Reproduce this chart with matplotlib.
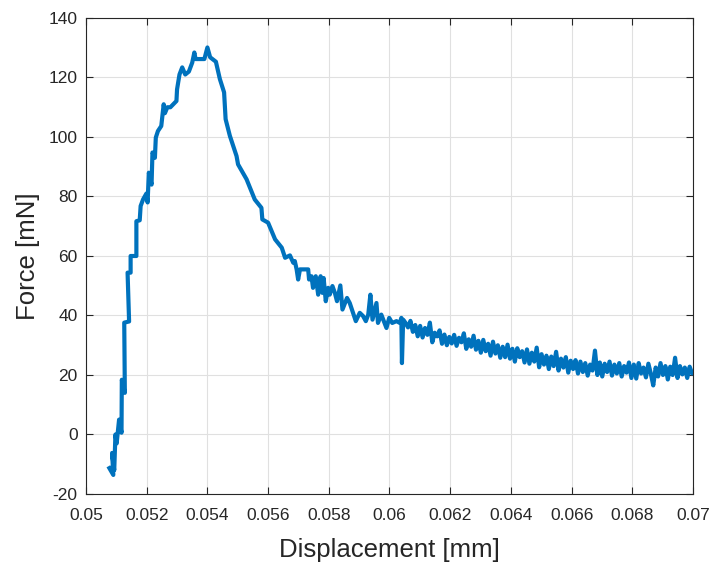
import matplotlib
matplotlib.use("Agg")
import matplotlib.pyplot as plt
from matplotlib.ticker import FuncFormatter

# Spostamento [mm] e forza [mN]
# 1) salita fino al picco e discesa
disp_main = [
    0.05077, 0.05090, 0.05086, 0.05093, 0.05097, 0.05101, 0.05109, 0.05117,
    0.05118, 0.05128, 0.05126, 0.05142, 0.05137, 0.05147, 0.05147, 0.05166,
    0.05166, 0.05177, 0.05180, 0.05188, 0.05199, 0.05203, 0.05207, 0.05216,
    0.05219, 0.05227, 0.05230, 0.05237, 0.05248, 0.05256, 0.05260, 0.05268,
    0.05278, 0.05298, 0.05300, 0.05308, 0.05317, 0.05327, 0.05339, 0.05350,
    0.05357, 0.05361, 0.05390, 0.05400, 0.05409, 0.05428, 0.05441, 0.05455,
    0.05460, 0.05474, 0.05496, 0.05501, 0.05529, 0.05556, 0.05578, 0.05581,
    0.05600, 0.05623, 0.05645, 0.05656, 0.05672, 0.05683, 0.05688, 0.05694,
    0.05699, 0.05705, 0.05732, 0.05735, 0.05743, 0.05748, 0.05757, 0.05765,
    0.05773, 0.05779, 0.05783, 0.05790, 0.05798, 0.05803, 0.05812, 0.05820,
    0.05827, 0.05838, 0.05845, 0.05860, 0.05869, 0.05889, 0.05902, 0.05913,
    0.05922, 0.05930, 0.05937, 0.05944, 0.05957, 0.05962, 0.05973, 0.05990,
    0.05999, 0.06009, 0.06023, 0.06034, 0.06039, 0.06041, 0.06045,
]
force_main = [
    -11.3, -13.6, -6.2, -12.0, 0.0, -3.0, 5.0, 0.6,
    18.4, 14.0, 37.6, 38.0, 54.4, 54.4, 60.0, 60.0,
    71.7, 72.0, 76.8, 79.0, 81.0, 78.0, 88.0, 84.0,
    94.8, 93.0, 99.8, 102.0, 103.7, 111.0, 108.0, 110.0,
    110.0, 112.1, 116.0, 121.0, 123.4, 121.0, 122.0, 125.0,
    128.4, 126.2, 126.2, 130.1, 126.8, 125.3, 119.5, 115.0,
    106.0, 100.4, 93.6, 90.8, 85.8, 79.0, 76.2, 72.3,
    71.2, 65.6, 62.8, 59.4, 60.2, 57.7, 58.3, 55.5,
    52.1, 55.5, 55.5, 52.1, 53.2, 49.3, 53.2, 47.0,
    53.2, 47.6, 52.6, 44.8, 49.3, 47.0, 49.9, 47.6,
    44.8, 50.1, 42.0, 45.9, 44.2, 38.1, 40.9, 39.8,
    38.1, 40.3, 47.0, 38.6, 44.2, 37.5, 40.3, 35.8,
    39.2, 37.5, 38.1, 37.5, 39.2, 24.0, 38.6,
]

# 2) coda rumorosa
disp_tail = [
    0.06053, 0.06061, 0.06069, 0.06077, 0.06085, 0.06093, 0.06101, 0.06109, 0.06117, 0.06125,
    0.06133, 0.06141, 0.06149, 0.06157, 0.06165, 0.06173, 0.06181, 0.06189, 0.06197, 0.06205,
    0.06213, 0.06221, 0.06229, 0.06237, 0.06245, 0.06253, 0.06261, 0.06269, 0.06277, 0.06285,
    0.06293, 0.06301, 0.06309, 0.06317, 0.06325, 0.06333, 0.06341, 0.06349, 0.06357, 0.06365,
    0.06373, 0.06381, 0.06389, 0.06397, 0.06405, 0.06413, 0.06421, 0.06429, 0.06437, 0.06445,
    0.06453, 0.06461, 0.06469, 0.06477, 0.06485, 0.06493, 0.06501, 0.06509, 0.06517, 0.06525,
    0.06533, 0.06541, 0.06549, 0.06557, 0.06565, 0.06573, 0.06581, 0.06589, 0.06597, 0.06605,
    0.06613, 0.06621, 0.06629, 0.06637, 0.06645, 0.06653, 0.06661, 0.06669, 0.06677, 0.06685,
    0.06693, 0.06701, 0.06709, 0.06717, 0.06725, 0.06733, 0.06741, 0.06749, 0.06757, 0.06765,
    0.06773, 0.06781, 0.06789, 0.06797, 0.06805, 0.06813, 0.06821, 0.06829, 0.06837, 0.06845,
    0.06853, 0.06861, 0.06869, 0.06877, 0.06885, 0.06893, 0.06901, 0.06909, 0.06917, 0.06925,
    0.06933, 0.06941, 0.06949, 0.06957, 0.06965, 0.06973, 0.06981, 0.06989, 0.06997, 0.07005,
]
force_tail = [
    37.5, 36.0, 38.2, 34.5, 36.8, 33.0, 36.5, 32.6, 35.8, 33.5,
    37.6, 31.0, 34.2, 33.0, 35.0, 30.5, 33.6, 30.0, 32.8, 30.6,
    33.5, 29.8, 32.5, 31.0, 34.0, 28.8, 32.0, 29.5, 33.2, 28.5,
    31.5, 27.5, 31.8, 28.0, 30.5, 26.5, 31.2, 27.2, 30.0, 25.8,
    29.5, 26.0, 30.2, 25.5, 28.8, 24.5, 29.0, 26.0, 28.0, 24.2,
    28.6, 23.8, 27.5, 24.5, 29.2, 22.6, 27.0, 23.5, 26.5, 22.0,
    26.2, 23.0, 27.8, 21.5, 25.5, 22.5, 26.0, 20.8, 24.8, 22.0,
    25.0, 20.5, 24.5, 21.0, 24.0, 19.8, 23.5, 21.5, 28.2, 20.0,
    24.2, 19.5, 23.8, 21.0, 24.5, 19.8, 23.5, 20.5, 24.0, 19.5,
    23.0, 20.8, 24.2, 19.0, 23.5, 18.8, 24.0, 20.5, 22.5, 19.2,
    23.8, 20.5, 16.5, 22.5, 19.5, 24.0, 20.0, 23.0, 18.5, 22.8,
    20.0, 25.8, 19.0, 23.0, 20.2, 22.5, 19.0, 22.8, 20.5, 21.0,
]

x_ticks = [0.05, 0.052, 0.054, 0.056, 0.058, 0.06, 0.062, 0.064, 0.066, 0.068, 0.07]
y_ticks = [-20, 0, 20, 40, 60, 80, 100, 120, 140]

plt.rcParams["font.family"] = ["Liberation Sans", "DejaVu Sans"]
plt.rcParams["axes.unicode_minus"] = False

fig = plt.figure(figsize=(7.12, 5.62), dpi=100)
ax = fig.add_axes([86 / 712, 1 - 494 / 562, 607 / 712, 476 / 562])

ax.plot(disp_main + disp_tail, force_main + force_tail, color="#0072BD", linewidth=3)

ax.set_xlim(0.05, 0.07)
ax.set_ylim(-20, 140)
ax.set_xticks(x_ticks)
ax.set_yticks(y_ticks)
ax.xaxis.set_major_formatter(FuncFormatter(lambda v, p: "%g" % round(v, 4)))
ax.tick_params(direction="in", top=True, right=True, labelsize=12.5,
               colors="#262626", length=5, width=0.8)
ax.tick_params(axis="x", pad=10)
ax.tick_params(axis="y", pad=6)
for s in ax.spines.values():
    s.set_color("#262626")
    s.set_linewidth(0.8)

ax.grid(True, color="#e0e0e0", linewidth=0.8)
ax.set_axisbelow(True)

ax.set_xlabel("Displacement [mm]", fontsize=18.5, color="#262626", labelpad=11)
ax.set_ylabel("Force [mN]", fontsize=18.5, color="#262626", labelpad=6)

fig.savefig("out.png", dpi=100)
